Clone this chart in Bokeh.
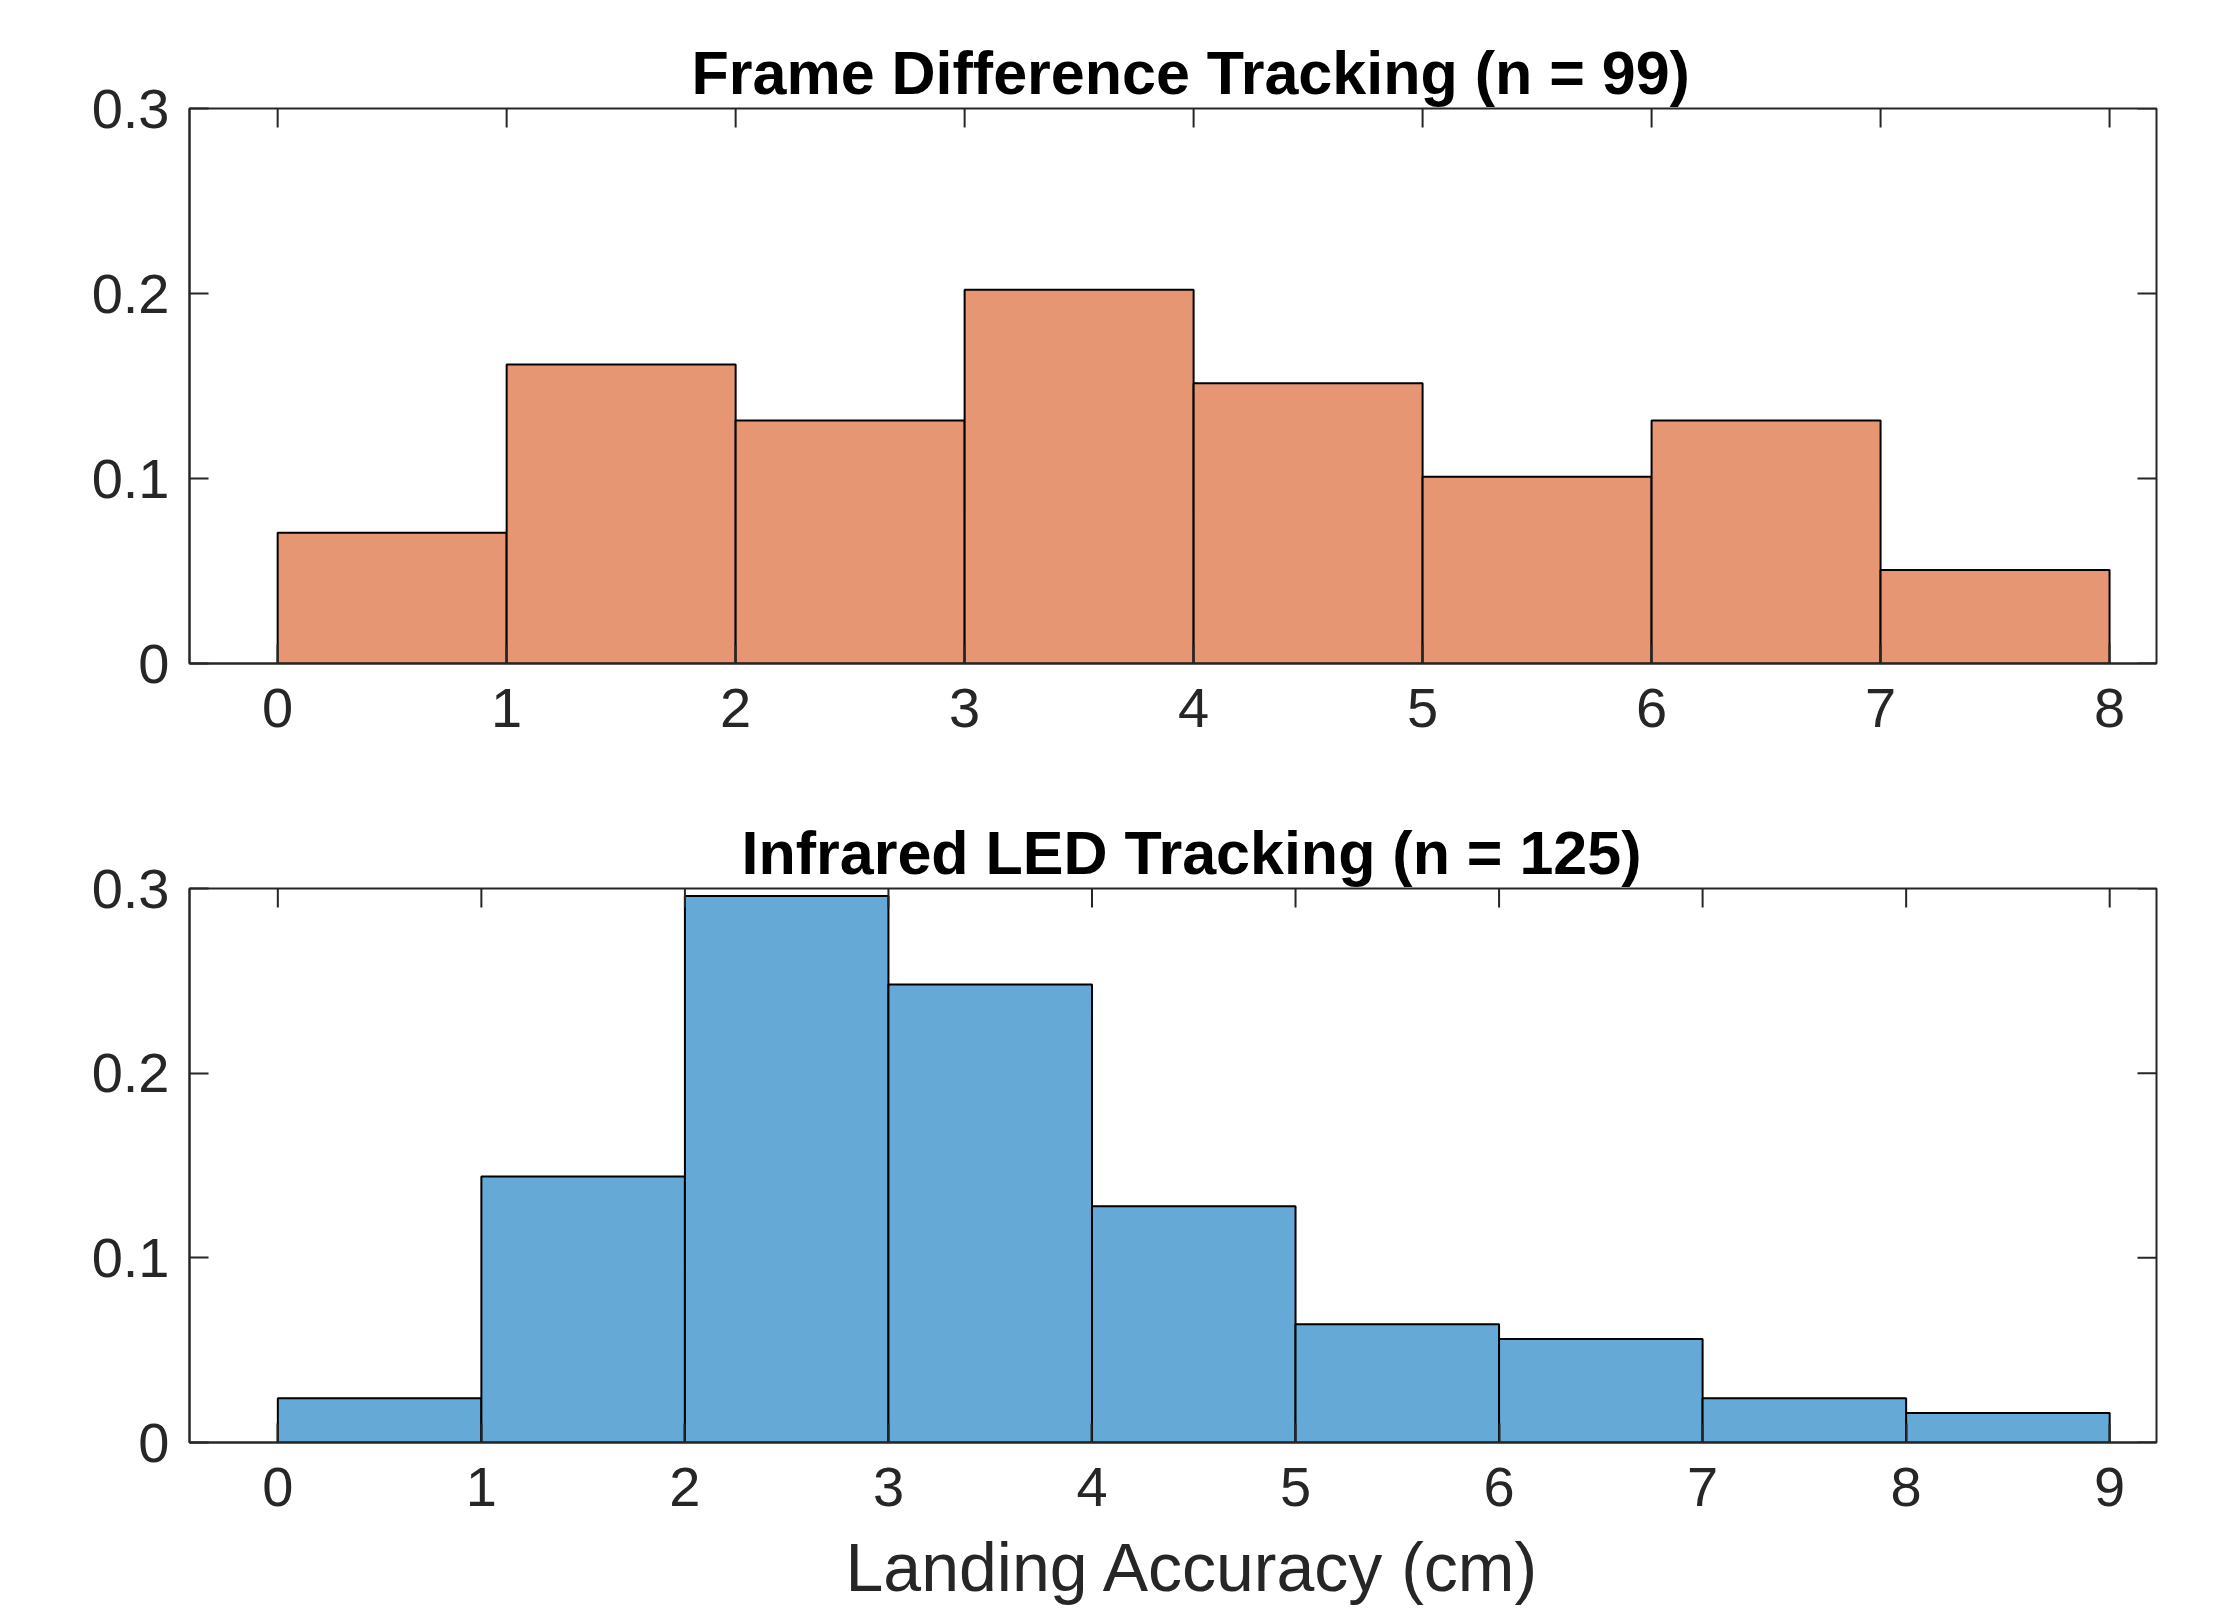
import math
from bokeh.plotting import figure
from bokeh.models import Range1d, FixedTicker, Title
from bokeh.layouts import column
from bokeh.embed import file_html
from bokeh.resources import INLINE

# ---- data ----
fd_edges = [0, 1, 2, 3, 4, 5, 6, 7, 8]
fd_prob = [0.0707, 0.1616, 0.1313, 0.2020, 0.1515, 0.1010, 0.1313, 0.0505]
ir_edges = [0, 1, 2, 3, 4, 5, 6, 7, 8, 9]
ir_prob = [0.024, 0.144, 0.296, 0.248, 0.128, 0.064, 0.056, 0.024, 0.016]
fd_title = "Frame Difference Tracking (n = 99)"
ir_title = "Infrared LED Tracking (n = 125)"
x_label = "Landing Accuracy (cm)"
y_ticks = [0, 0.1, 0.2, 0.3]
y_tick_labels = ["0", "0.1", "0.2", "0.3"]

FONT = "Liberation Sans"
AX = "#262626"
TICK = 19


def panel(edges, probs, title, color, xlim, top_b, frame_h, bottom_b,
          title_offset, xlabel=None):
    p = figure(output_backend="svg", toolbar_location=None,
               frame_width=1967, frame_height=frame_h,
               min_border_left=189, min_border_right=59,
               min_border_top=top_b, min_border_bottom=bottom_b,
               x_range=Range1d(*xlim), y_range=Range1d(y_ticks[0], y_ticks[-1]))
    p.quad(left=edges[:-1], right=edges[1:], bottom=0, top=probs,
           fill_color=color, line_color="black", line_width=2)
    # mirrored inward ticks on the top and right edges of the box
    p.ray(x=edges, y=[y_ticks[-1]] * len(edges), length=TICK,
          length_units="screen", angle=-math.pi / 2,
          line_color=AX, line_width=2)
    p.ray(x=[xlim[1]] * len(y_ticks), y=y_ticks, length=TICK,
          length_units="screen", angle=math.pi,
          line_color=AX, line_width=2)
    p.grid.visible = False
    p.outline_line_color = AX
    p.outline_line_width = 2
    p.background_fill_color = "white"
    p.border_fill_color = "white"

    p.title.text = title
    p.title.text_font = FONT
    p.title.text_font_size = "61px"
    p.title.text_font_style = "bold"
    p.title.text_color = "black"
    p.title.align = "left"
    p.title.offset = title_offset
    p.title.standoff = 3

    p.xaxis.ticker = FixedTicker(ticks=edges)
    p.yaxis.ticker = FixedTicker(ticks=y_ticks)
    p.yaxis.major_label_overrides = dict(zip(y_ticks, y_tick_labels))
    for ax in list(p.xaxis) + list(p.yaxis):
        ax.major_tick_in = TICK
        ax.major_tick_out = 0
        ax.minor_tick_in = 0
        ax.minor_tick_out = 0
        ax.major_tick_line_color = AX
        ax.major_tick_line_width = 2
        ax.axis_line_color = AX
        ax.axis_line_width = 2
        ax.major_label_text_font = FONT
        ax.major_label_text_font_size = "56px"
        ax.major_label_text_color = AX
    p.xaxis.major_label_standoff = 25
    p.yaxis.major_label_standoff = 20
    if xlabel:
        t = Title(text=xlabel, align="left", offset=656,
                  text_font=FONT, text_font_size="68px",
                  text_font_style="normal", text_color=AX, standoff=36)
        p.add_layout(t, "below")
    return p


p1 = panel(fd_edges, fd_prob, fd_title, "#E69673", (-0.385, 8.205),
           108, 555, 129, 502)
p2 = panel(ir_edges, ir_prob, ir_title, "#65A9D6", (-0.434, 9.23),
           96, 554, 163, 552, x_label)

layout = column(p1, p2, spacing=0)
open("out.html", "w").write(file_html(layout, INLINE))
